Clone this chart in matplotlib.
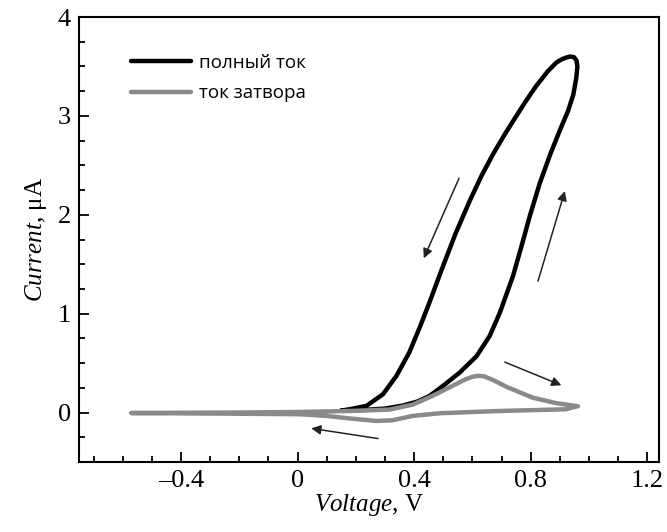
import matplotlib
matplotlib.use("Agg")
import matplotlib.pyplot as plt
from matplotlib.ticker import MultipleLocator, FuncFormatter

# full current loop (forward sweep then reverse sweep)
full_v = [0.15, 0.22, 0.30, 0.36, 0.41, 0.453, 0.499, 0.556, 0.614, 0.659, 0.694,
          0.739, 0.768, 0.797, 0.831, 0.868, 0.902, 0.928, 0.946, 0.956, 0.960,
          0.957, 0.948, 0.935, 0.922,
          0.908, 0.888, 0.858, 0.818, 0.781, 0.742, 0.708, 0.672, 0.632, 0.592, 0.542,
          0.495, 0.452, 0.421, 0.383, 0.339, 0.293, 0.236, 0.178, 0.15]
full_i = [0.02, 0.025, 0.04, 0.07, 0.11, 0.168, 0.27, 0.404, 0.57, 0.774, 1.01,
          1.38, 1.68, 1.99, 2.32, 2.62, 2.87, 3.05, 3.215, 3.38, 3.50,
          3.56, 3.595, 3.60, 3.59,
          3.575, 3.54, 3.45, 3.30, 3.14, 2.96, 2.80, 2.62, 2.40, 2.15, 1.81,
          1.45, 1.11, 0.875, 0.606, 0.37, 0.185, 0.067, 0.033, 0.02]

# gate current loop
gate_v = [-0.57, -0.4, -0.2, 0.007, 0.18, 0.316, 0.395, 0.464, 0.545, 0.575, 0.60,
          0.62, 0.64, 0.67, 0.717, 0.807, 0.888, 0.962, 0.92, 0.694, 0.488, 0.395,
          0.326, 0.27, 0.18, 0.10, 0.007, -0.2, -0.4, -0.57]
gate_i = [-0.005, -0.002, 0.0, 0.006, 0.016, 0.03, 0.08, 0.17, 0.29, 0.335, 0.362,
          0.372, 0.366, 0.33, 0.26, 0.15, 0.095, 0.064, 0.033, 0.016, -0.007, -0.034,
          -0.078, -0.085, -0.06, -0.034, -0.017, -0.012, -0.008, -0.005]

# sweep direction arrows: (tail, head)
arrows = [((0.554, 2.37), (0.433, 1.56)),
          ((0.825, 1.33), (0.917, 2.24)),
          ((0.711, 0.51), (0.905, 0.276)),
          ((0.276, -0.263), (0.047, -0.16))]

plt.rcParams['mathtext.fontset'] = 'custom'
plt.rcParams['mathtext.rm'] = 'Liberation Serif'
plt.rcParams['mathtext.it'] = 'Liberation Serif:italic'

fig = plt.figure(figsize=(6.67, 5.32), dpi=100)
ax = fig.add_axes([0.1184, 0.1316, 0.8696, 0.8364])

ax.plot(full_v, full_i, color='black', lw=3.2, solid_joinstyle='round',
        solid_capstyle='round', label='полный ток')
ax.plot(gate_v, gate_i, color='#8a8a8a', lw=3.2, solid_joinstyle='round',
        solid_capstyle='round', label='ток затвора')

for tail, head in arrows:
    ax.annotate('', xy=head, xytext=tail,
                arrowprops=dict(arrowstyle='-|>', color='#222222', lw=1.1,
                                mutation_scale=14, shrinkA=0, shrinkB=0))

ax.set_xlim(-0.75, 1.24)
ax.set_ylim(-0.5, 4)
ax.xaxis.set_major_locator(MultipleLocator(0.4))
ax.xaxis.set_minor_locator(MultipleLocator(0.1))
ax.yaxis.set_major_locator(MultipleLocator(1))
ax.yaxis.set_minor_locator(MultipleLocator(0.25))
fmt = FuncFormatter(lambda v, p: ('%g' % round(v, 2)).replace('-', '\u2013'))
ax.xaxis.set_major_formatter(fmt)
ax.yaxis.set_major_formatter(fmt)

ax.tick_params(which='both', direction='in', top=False, right=False, width=1.3)
ax.tick_params(which='major', length=7.5, labelsize=19, pad=6)
ax.tick_params(which='minor', length=4.5)
for lab in ax.get_xticklabels() + ax.get_yticklabels():
    lab.set_fontfamily('Liberation Serif')
for s in ax.spines.values():
    s.set_linewidth(1.5)

ax.set_xlabel(r'$\it{Voltage}$, V', fontsize=18, fontfamily='Liberation Serif', labelpad=0)
ax.set_ylabel(r'$\it{Current}$, μA', fontsize=18, fontfamily='Liberation Serif', labelpad=6)

ax.legend(loc='upper left', bbox_to_anchor=(0.06, 0.955), frameon=False,
          prop={'family': 'Open Sans', 'size': 13.5}, handlelength=3.2,
          handletextpad=0.45, labelspacing=0.65)

fig.savefig('out.png', dpi=100)
